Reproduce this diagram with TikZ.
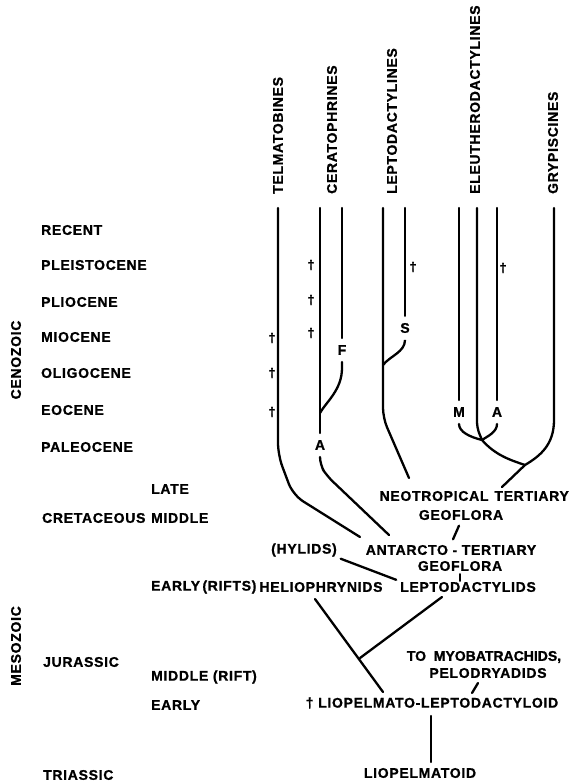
\documentclass[tikz,border=0pt]{standalone}
\usepackage{fontspec}
\setmainfont{Liberation Sans}[LetterSpace=5, BoldFeatures={FakeBold=1}]
\usetikzlibrary{calc}

\begin{document}
\begin{tikzpicture}[
    x=1pt,y=-1pt,
    line width=2.3pt, line cap=round,
    era/.style={anchor=west, inner sep=0pt, font=\bfseries\fontsize{14}{16}\selectfont},
    taxon/.style={era, rotate=90},
    tag/.style={inner sep=0pt, font=\bfseries\fontsize{14}{16}\selectfont},
    brk/.style={tag, inner sep=6pt},
    extinct/.style={inner sep=0pt, font=\bfseries\fontsize{13}{14}\selectfont}
]
    \useasboundingbox (0,0) rectangle (570,784);
    \fill[white] (0,0) rectangle (570,784);

    % taxa
    \node[taxon] (telm) at (278,195) {TELMATOBINES};
    \node[taxon] (cera) at (332,195) {CERATOPHRINES};
    \node[taxon] (lepto) at (392,195) {LEPTODACTYLINES};
    \node[taxon] (eleu) at (475,195) {ELEUTHERODACTYLINES};
    \node[taxon] (gryp) at (553,195) {GRYPISCINES};

    % time scale
    \node[era, rotate=90, anchor=center] (cenozoic) at (16,360) {CENOZOIC};
    \node[era, rotate=90, anchor=center] (mesozoic) at (16,646) {MESOZOIC};
    \node[era] (recent) at (40,230) {RECENT};
    \node[era] (pleisto) at (40,265) {PLEISTOCENE};
    \node[era] (plio) at (40,302) {PLIOCENE};
    \node[era] (mio) at (40,337) {MIOCENE};
    \node[era] (oligo) at (40,373) {OLIGOCENE};
    \node[era] (eoc) at (40,410) {EOCENE};
    \node[era] (paleo) at (40,447) {PALEOCENE};
    \node[era] (cret) at (41,518) {CRETACEOUS};
    \node[era] (cretlate) at (150,489) {LATE};
    \node[era] (cretmid) at (150,518) {MIDDLE};
    \node[era] (cretearly) at (150,587) {EARLY\,(RIFTS)};
    \node[era] (jur) at (42,662) {JURASSIC};
    \node[era] (jurmid) at (150,677) {MIDDLE (RIFT)};
    \node[era] (jurearly) at (150,705) {EARLY};
    \node[era] (trias) at (42,775) {TRIASSIC};

    % groups
    \node[tag, anchor=east] (neo) at (570,496) {NEOTROPICAL\hspace{6pt}TERTIARY};
    \node[tag] (geoA) at (461,515) {GEOFLORA};
    \node[tag] (antarcto) at (451,550) {ANTARCTO - TERTIARY};
    \node[tag] (geoB) at (460,566) {GEOFLORA};
    \node[tag] (hylids) at (304,550) {(HYLIDS)};
    \node[tag] (helio) at (321,587) {HELIOPHRYNIDS};
    \node[tag] (leptodactylids) at (468,587) {LEPTODACTYLIDS};
    \node[tag, font=\bfseries\fontsize{14}{16}\selectfont\addfontfeature{LetterSpace=0}] (tomyo) at (484,657) {TO\ \ MYOBATRACHIDS,};
    \node[tag] (pelo) at (488,673) {PELODRYADIDS};
    \node[tag] (liolep) at (432,703) {† LIOPELMATO-LEPTODACTYLOID};
    \node[tag] (liopel) at (420,773) {LIOPELMATOID};

    % letters on the branches
    \node[brk] (ceraA) at (320,445) {A};
    \node[brk] (ceraF) at (342,350) {F};
    \node[brk] (leptoS) at (405,328) {S};
    \node[brk] (eleuM) at (459,412) {M};
    \node[brk] (eleuA) at (497,412) {A};

    % extinct
    \foreach \x/\y [count=\i] in {272/338, 272/373, 272/412, 311/265, 311/300, 311/333, 413/267, 503/268}
        \node[extinct] (dagger\i) at (\x,\y) {†};

    % branch ends
    \coordinate (telmtop) at (278,208);
    \coordinate (ceratop) at (320,208);
    \coordinate (ceraFtop) at (342,208);
    \coordinate (leptotop) at (383,208);
    \coordinate (leptoStop) at (405,208);
    \coordinate (eleuMtop) at (459,208);
    \coordinate (eleumidtop) at (477,208);
    \coordinate (eleuAtop) at (497,208);
    \coordinate (gryptop) at (554,208);
    \coordinate (ceraJ) at (320,413);
    \coordinate (leptoJ) at (383,365);
    \coordinate (eleuJ) at (482,440);
    \coordinate (grypJ) at (525,465);
    \coordinate (telmend) at (360,537);
    \coordinate (ceraend) at (389,535);
    \coordinate (leptoend) at (409,478);
    \coordinate (grypend) at (502,487);
    \coordinate (heliostart) at (315,599);
    \coordinate (helioend) at (383,692);
    \coordinate (helioJ) at (360,658);
    \coordinate (lepstart) at (442,597);
    \coordinate (pelostart) at (478,683);
    \coordinate (peloend) at (472,693);
    \coordinate (liotop) at (431,716);
    \coordinate (liobot) at (431,762);

    % telmatobines
    \draw[rounded corners=12pt] (telmtop) -- (278,455) -- (293,495) -- (telmend);
    % ceratophrines
    \draw (ceratop) -- (ceraA);
    \draw[rounded corners=8pt] (ceraA) -- (320,465) -- (327,476) -- (ceraend);
    \draw (ceraFtop) -- (ceraF);
    \draw (ceraF) -- (342,368) .. controls (342,390) and (326,402) .. (ceraJ);
    % leptodactylines
    \draw[rounded corners=10pt] (leptotop) -- (383,418) -- (leptoend);
    \draw (leptoStop) -- (leptoS);
    \draw (leptoS) -- (405,340) .. controls (405,352) and (390,356) .. (leptoJ);
    % eleutherodactylines
    \draw (eleuMtop) -- (eleuM);
    \draw (eleuM) .. controls (459,432) and (470,437) .. (eleuJ);
    \draw[rounded corners=6pt] (eleumidtop) -- (477,428) -- (eleuJ);
    \draw (eleuAtop) -- (eleuA);
    \draw (eleuA) .. controls (497,432) and (488,436) .. (eleuJ);
    \draw (eleuJ) .. controls (495,455) and (510,460) .. (grypJ);
    % grypiscines
    \draw (gryptop) -- (554,420) .. controls (554,445) and (540,456) .. (grypJ);
    \draw (grypJ) -- (grypend);

    % lower links
    \draw[shorten <=5pt, shorten >=5pt] (geoA.south) -- (antarcto.north);
    \draw[shorten <=2pt] (geoB.south) -- (geoB.south |- leptodactylids.north);
    \draw[shorten <=3pt, shorten >=3pt] (hylids.south east) -- (leptodactylids.north west);
    \draw (heliostart) -- (helioend);
    \draw (lepstart) -- (helioJ);
    \draw (pelostart) -- (peloend);
    \draw (liotop) -- (liobot);
\end{tikzpicture}
\end{document}
